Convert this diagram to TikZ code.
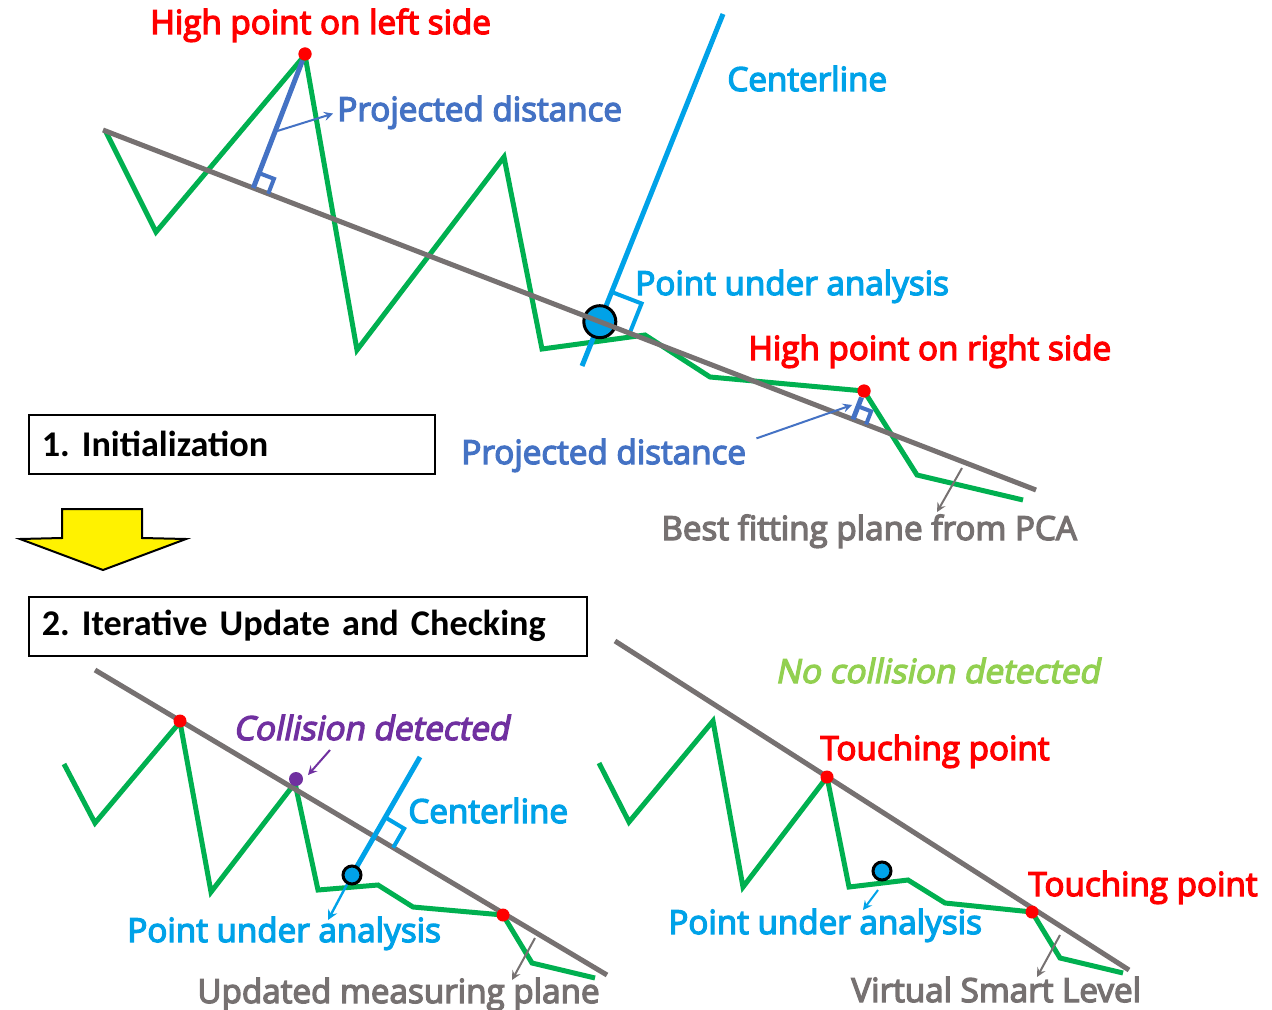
\documentclass[tikz,border=0pt]{standalone}
\usepackage{fontspec}
\setmainfont{Open Sans}[FakeBold=4]
\newfontfamily\slantfont{Open Sans}[FakeSlant=0.2, FakeBold=4]
\newfontfamily\boxfont{Carlito}
\usepackage{tikz}
\usetikzlibrary{arrows, calc, positioning}
\tikzset{>=stealth}
\definecolor{profgreen}{HTML}{00B050}
\definecolor{planegrey}{HTML}{767171}
\definecolor{cyanblue}{HTML}{00A2E8}
\definecolor{projblue}{HTML}{4472C4}
\definecolor{hired}{HTML}{FF0000}
\definecolor{collpurple}{HTML}{7030A0}
\definecolor{okgreen}{HTML}{92D050}
\frenchspacing

\begin{document}
\begin{tikzpicture}[x=0.5pt, y=-0.5pt,
    lbl/.style={font=\fontsize{16.6}{20}\selectfont, inner sep=0pt, anchor=base west},
    slbl/.style={lbl, font=\slantfont\fontsize{16.6}{20}\selectfont},
    stagebox/.style={draw, line width=0.8pt, anchor=north west, inner ysep=0pt, inner xsep=6.5pt,
        align=left, minimum height=29.5pt, font=\boxfont\bfseries\fontsize{18.1}{22}\selectfont},
    profile/.style={draw=profgreen, line width=2.5pt},
    plane/.style={draw=planegrey, line width=2.5pt},
    ctr/.style={draw=cyanblue, line width=2.5pt},
    proj/.style={draw=projblue, line width=2.5pt},
    ptr/.style={->, line width=1pt},
    dot/.style={circle, fill=#1, inner sep=0pt, minimum size=6.5pt},
    pua/.style={circle, draw=black, fill=cyanblue, line width=1.5pt, inner sep=0pt, minimum size=#1},
  ]
    \useasboundingbox (0,0) rectangle (1272,1010);

    % 1. initialization
    \coordinate (pA) at (103,130);
    \coordinate (pB) at (1036,490);
    \coordinate (ct) at (723,14);
    \coordinate (cb) at (582,366);
    \coordinate (X1) at (intersection of ct--cb and pA--pB);

    \draw[profile] (105,130) -- (156,232) -- (305,55) -- (357,350) -- (504,157) -- (542,349)
        -- (645,335) -- (710,377) -- (864,391) -- (917,475) -- (1023,500);
    \draw[ctr] (ct) -- (cb);
    \coordinate (m1a) at ($(X1)!16pt!(ct)$);
    \coordinate (m1b) at ($(X1)!16pt!(pB)$);
    \draw[ctr, line width=2pt] (m1a) -- ($(m1a)+(m1b)-(X1)$) -- (m1b);
    \node[pua=16pt] (pua1) at (X1) {};
    \draw[plane] (pA) -- (pB);

    \node[dot=hired] (HL) at (305,54) {};
    \node[dot=hired] (HR) at (864,391) {};
    \coordinate (F1) at ($(pA)!(HL.center)!(pB)$);
    \coordinate (F2) at ($(pA)!(HR.center)!(pB)$);
    \draw[proj] (HL) -- (F1);
    \draw[proj] (HR) -- (F2);
    \coordinate (m2a) at ($(F1)!8pt!(HL.center)$);
    \coordinate (m2b) at ($(F1)!8pt!(pB)$);
    \draw[proj, line width=2pt] (m2a) -- ($(m2a)+(m2b)-(F1)$) -- (m2b);
    \coordinate (m3a) at ($(F2)!7pt!(HR.center)$);
    \coordinate (m3b) at ($(F2)!7pt!(pB)$);
    \draw[proj, line width=2pt] (m3a) -- ($(m3a)+(m3b)-(F2)$) -- (m3b);
    \node[dot=hired] at (HL) {};
    \node[dot=hired] at (HR) {};

    \node[lbl, hired]     (hl)  at (150,34)  {High point on left side};
    \node[lbl, projblue]  (pd1) at (337,121) {Projected distance};
    \node[lbl, cyanblue]  (cl1) at (727,91)  {Centerline};
    \node[lbl, cyanblue]  (pt1) at (635,295) {Point under analysis};
    \node[lbl, hired]     (hr)  at (748,360) {High point on right side};
    \node[lbl, projblue]  (pd2) at (461,464) {Projected distance};
    \node[lbl, planegrey] (bf)  at (661,540) {Best fitting plane from PCA};

    \coordinate (pd1a) at ($(HL.center)!0.58!(F1)$);
    \draw[ptr, projblue, shorten >=2pt] (pd1a) -- (pd1.west);
    \coordinate (pd2b) at (852,405);
    \draw[ptr, projblue] ([xshift=5pt]pd2.north east) -- (pd2b);
    \coordinate (bfa) at (962,468);
    \coordinate (bfb) at (937,512);
    \draw[ptr, planegrey] (bfa) -- (bfb);

    \node[stagebox, text width=190pt] (init) at (28,414) {1. Initialization};
    \draw[fill=yellow, line width=1pt] (62,509) -- (142,509) -- (142,538) -- (186,539)
        -- (103,570) -- (20,539) -- (62,538) -- cycle;
    \node[stagebox, text width=266pt] (iter) at (28,596) {2. Iterative Update and Checking};

    % 2. collision detected
    \coordinate (qA) at (95,670);
    \coordinate (qB) at (607,975);
    \coordinate (ct2) at (420,757);
    \coordinate (pul) at (352,875);
    \coordinate (X2) at (intersection of ct2--pul and qA--qB);

    \draw[profile] (64,764) -- (95,823) -- (180,722) -- (211,892) -- (295,783) -- (318,890)
        -- (378,885) -- (413,907) -- (503,915) -- (532,963) -- (595,978);
    \draw[plane] (qA) -- (qB);
    \draw[ctr] (ct2) -- (pul);
    \coordinate (m4a) at ($(X2)!11pt!(ct2)$);
    \coordinate (m4b) at ($(X2)!11pt!(qB)$);
    \draw[ctr, line width=2pt] (m4a) -- ($(m4a)+(m4b)-(X2)$) -- (m4b);
    \coordinate (pul2) at (328,920);
    \draw[ptr, cyanblue, line width=1.2pt] (pul) -- (pul2);
    \node[pua=9pt] (pua2) at (pul) {};
    \node[dot=hired] (tl1) at (180,721) {};
    \node[dot=hired] (tl2) at (503,915) {};
    \node[dot=collpurple, minimum size=7pt] (coll) at (296,779) {};

    \node[slbl, collpurple] (cd)  at (233,740)  {Collision detected};
    \node[lbl, cyanblue]    (cl2) at (408,823)  {Centerline};
    \node[lbl, cyanblue]    (pt2) at (127,942)  {Point under analysis};
    \node[lbl, planegrey]   (um)  at (197,1003) {Updated measuring plane};

    \coordinate (cda) at (330,750);
    \coordinate (cdb) at (308,775);
    \draw[ptr, collpurple] (cda) -- (cdb);
    \coordinate (uma) at (535,938);
    \coordinate (umb) at (512,980);
    \draw[ptr, planegrey] (uma) -- (umb);

    % 2. no collision
    \coordinate (rA) at (615,641);
    \coordinate (rB) at (1129,970);

    \draw[profile] (599,763) -- (629,822) -- (713,721) -- (743,887) -- (827,777) -- (849,887)
        -- (908,880) -- (945,903) -- (1032,912) -- (1060,958) -- (1123,973);
    \draw[plane] (rA) -- (rB);
    \node[pua=9pt] (pua3) at (882,871) {};
    \node[dot=hired] (tp1) at (827,777) {};
    \node[dot=hired] (tp2) at (1032,912) {};

    \node[slbl, okgreen]  (nc)   at (775,683)  {No collision detected};
    \node[lbl, hired]     (tpl1) at (820,760)  {Touching point};
    \node[lbl, hired]     (tpl2) at (1028,896) {Touching point};
    \node[lbl, cyanblue]  (pt3)  at (668,934)  {Point under analysis};
    \node[lbl, planegrey] (vsl)  at (851,1002) {Virtual Smart Level};

    \coordinate (pt3a) at (878,890);
    \coordinate (pt3b) at (863,910);
    \draw[ptr, cyanblue] (pt3a) -- (pt3b);
    \coordinate (vsla) at (1060,935);
    \coordinate (vslb) at (1037,977);
    \draw[ptr, planegrey] (vsla) -- (vslb);
\end{tikzpicture}
\end{document}
